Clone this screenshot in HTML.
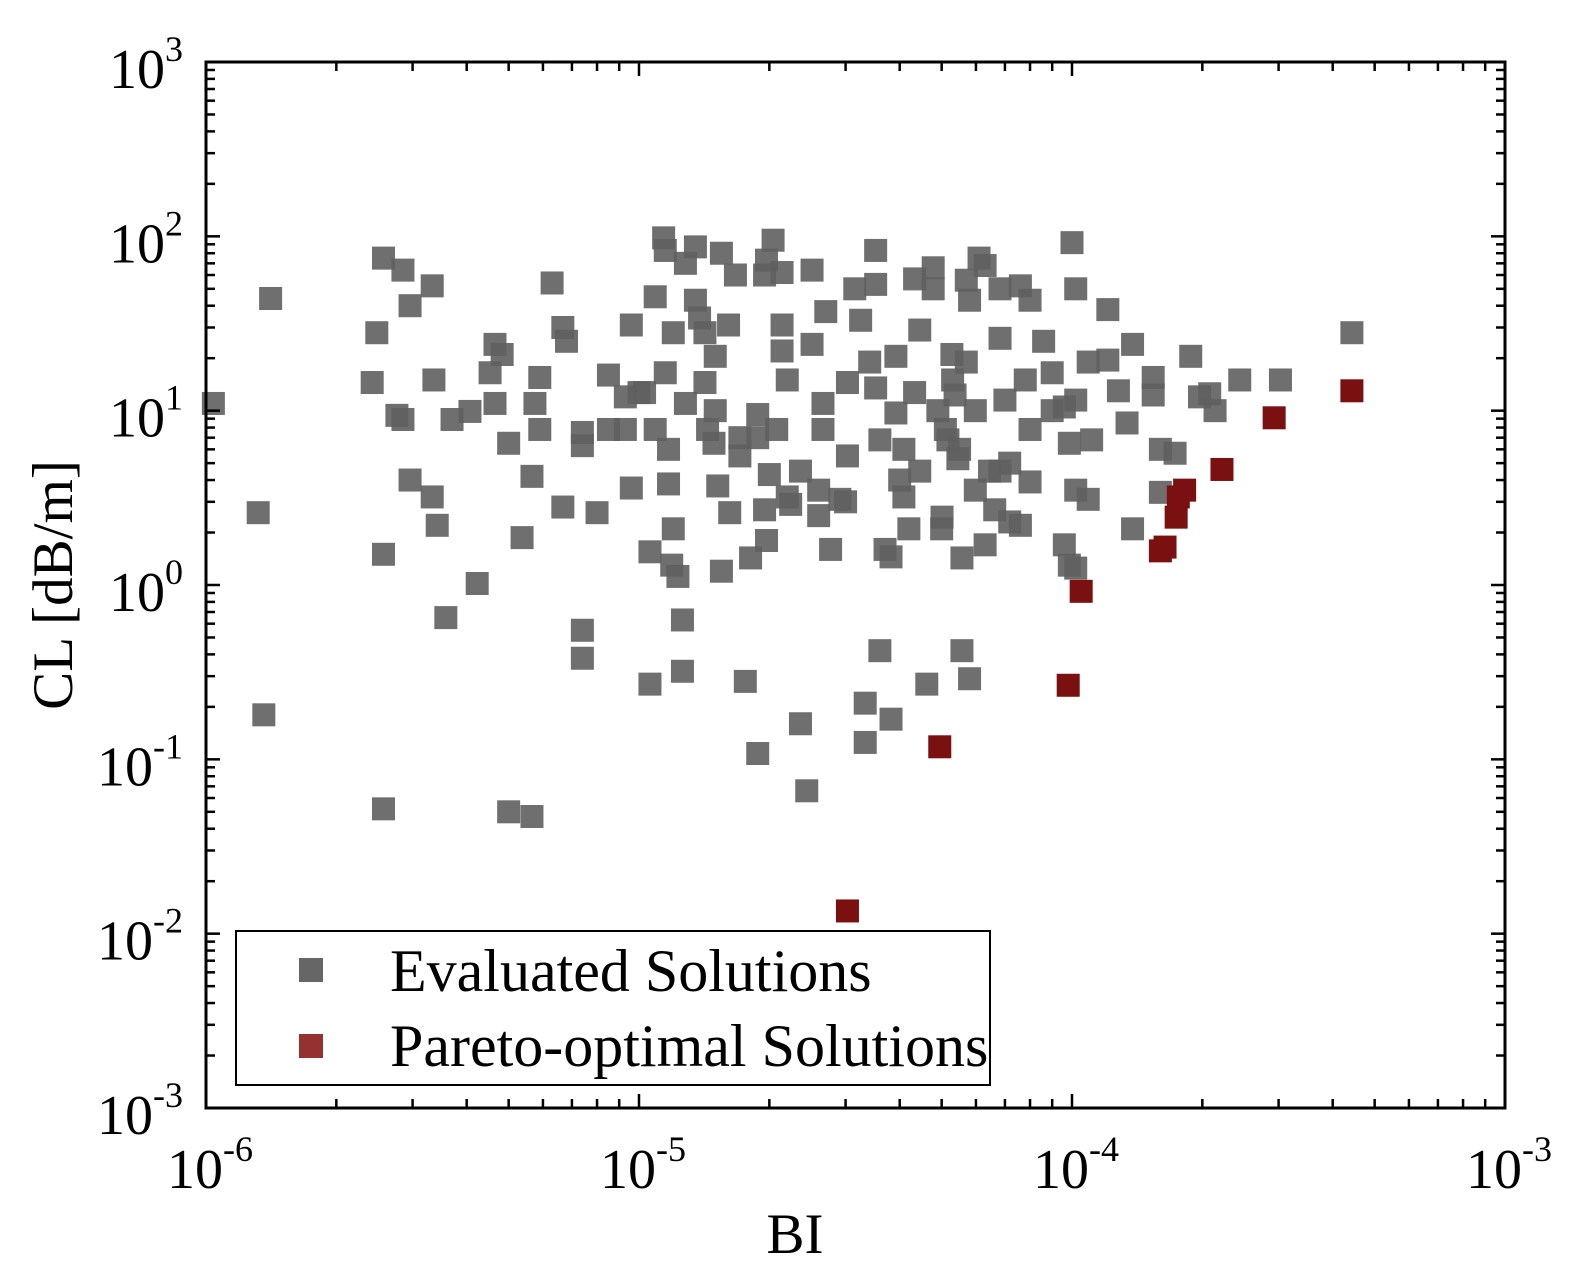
<!DOCTYPE html>
<html><head><meta charset="utf-8"><style>
html,body{margin:0;padding:0;background:#fff;overflow:hidden;width:1574px;height:1285px;}
svg{display:block;font-family:"Liberation Serif",serif;}
</style></head><body>
<svg id="chart" width="1574" height="1285" viewBox="0 0 1574 1285" xmlns="http://www.w3.org/2000/svg">
<rect x="0" y="0" width="1574" height="1285" fill="#fff"/>
<g id="marks"></g>
<g id="axes"></g>
<text x="795" y="1253" font-size="57" text-anchor="middle">BI</text>
<text x="0" y="0" font-size="57" text-anchor="middle" transform="translate(72,585) rotate(-90)">CL [dB/m]</text>
<g>
<rect x="236" y="931" width="754" height="154" fill="#fff" stroke="#000" stroke-width="2"/>
<rect x="299" y="958" width="24" height="24" fill="#666"/>
<text x="390" y="991" font-size="60">Evaluated Solutions</text>
<rect x="299" y="1034" width="24" height="24" fill="#943232"/>
<text x="390" y="1066" font-size="60">Pareto-optimal Solutions</text>
</g>
</svg>
<script>
const grayBI=[1.04e-6,1.41e-6,1.32e-6,1.36e-6,2.57e-6,2.85e-6,2.48e-6,2.42e-6,2.96e-6,3.33e-6,2.76e-6,2.85e-6,3.36e-6,2.96e-6,3.33e-6,3.42e-6,2.57e-6,3.58e-6,4.23e-6,2.57e-6,5e-6,5.66e-6,3.7e-6,4.07e-6,4.65e-6,4.83e-6,4.53e-6,4.65e-6,5e-6,5.37e-6,5.66e-6,5.75e-6,5.9e-6,5.9e-6,6.3e-6,6.67e-6,6.8e-6,6.67e-6,8e-6,7.4e-6,7.4e-6,8.5e-6,9.3e-6,8.5e-6,9.6e-6,9.6e-6,7.4e-6,7.4e-6,9.3e-6,1e-5,1.03e-5,1.06e-5,1.06e-5,1.09e-5,1.09e-5,1.14e-5,1.15e-5,1.15e-5,1.17e-5,1.17e-5,1.2e-5,1.19e-5,1.23e-5,1.26e-5,1.26e-5,1.28e-5,1.28e-5,1.2e-5,1.35e-5,1.35e-5,1.38e-5,1.42e-5,1.42e-5,1.44e-5,1.49e-5,1.5e-5,1.5e-5,1.52e-5,1.55e-5,1.55e-5,1.61e-5,1.62e-5,1.67e-5,1.71e-5,1.71e-5,1.76e-5,1.81e-5,1.88e-5,1.88e-5,1.88e-5,1.95e-5,1.97e-5,2.04e-5,1.95e-5,1.97e-5,2e-5,2.08e-5,2.14e-5,2.14e-5,2.2e-5,2.14e-5,2.2e-5,2.24e-5,2.36e-5,2.36e-5,2.44e-5,2.51e-5,2.51e-5,2.6e-5,2.6e-5,2.66e-5,2.66e-5,2.7e-5,2.77e-5,2.91e-5,3.03e-5,3.03e-5,3.15e-5,3.25e-5,3.33e-5,3.33e-5,3.41e-5,3.52e-5,3.52e-5,3.52e-5,3.6e-5,3.6e-5,3.7e-5,3.82e-5,3.82e-5,3.92e-5,3.92e-5,4.09e-5,4.09e-5,4.2e-5,4.33e-5,4.33e-5,4.45e-5,4.45e-5,4.62e-5,4.78e-5,4.78e-5,4.9e-5,5.01e-5,5e-5,5.17e-5,5.28e-5,5.37e-5,5.45e-5,5.57e-5,5.57e-5,5.7e-5,5.7e-5,5.8e-5,5.8e-5,5.98e-5,5.98e-5,6.1e-5,6.3e-5,6.3e-5,6.45e-5,6.63e-5,6.82e-5,6.82e-5,7e-5,7.18e-5,7.18e-5,7.6e-5,7.6e-5,7.8e-5,8e-5,8e-5,8e-5,8.6e-5,9e-5,9e-5,9.6e-5,9.86e-5,1e-4,1.02e-4,1.02e-4,1.02e-4,1.02e-4,1.09e-4,1.11e-4,1.09e-4,1.21e-4,1.21e-4,1.28e-4,1.34e-4,1.38e-4,1.38e-4,1.54e-4,1.54e-4,1.6e-4,1.6e-4,1.73e-4,1.88e-4,1.97e-4,2.08e-4,2.14e-4,2.44e-4,3.03e-4,4.43e-4,5.3e-5,5.1e-5,6.82e-5,9.6e-5,9.86e-5,3.0e-5,4.0e-5,5.5e-5];
const grayCL=[11,44,2.6,0.18,75,64,28,14.5,40,52,9.4,8.9,15,4.0,3.2,2.2,1.5,0.65,1.02,0.052,0.05,0.047,8.9,9.9,24,21,16.5,11,6.5,1.87,4.2,11,15.5,7.8,54,30,25,2.8,2.6,6.3,7.5,7.8,7.8,16,31,3.6,0.55,0.38,12,12.7,12.7,1.55,0.27,45,7.8,98,83,16.5,6,3.8,2.1,1.3,1.12,0.63,0.32,70,11,28,87,43,34,28,14.5,7.8,6.5,10,20.5,3.7,1.2,80,31,2.6,60,5.5,7,0.28,1.43,9.5,7,0.108,60,73,95,2.7,1.8,4.3,7.8,31,22,15,62,3.2,2.9,4.5,0.16,0.066,64,24,2.5,3.5,11,7.8,37,1.6,3.1,14.5,5.5,50,33,0.21,0.125,19,53,83,13.5,6.8,0.42,1.6,1.45,0.17,9.7,20.5,3.2,6,2.1,57,12.7,29,4.5,0.27,66,50,10,2.45,2.1,6.8,21,12.3,5.3,1.43,0.42,56,19,43,0.29,10,3.5,75,68,1.7,4.5,2.7,50,26,11.5,5,2.3,52,2.2,15,43,7.8,3.9,25,16.5,10,1.7,6.5,92,50,11.5,3.5,1.25,19,6.8,3.1,38,19.5,13,8.5,24,2.1,15.5,12.3,6,3.4,5.7,20.5,12,12.5,10,15,15,28,15,7.8,4.5,10.5,1.3,3.0,4.0,6.0];
const paretoBI=[3.03e-5,4.95e-5,9.8e-5,1.05e-4,1.6e-4,1.64e-4,1.74e-4,1.76e-4,1.82e-4,2.22e-4,2.93e-4,4.43e-4];
const paretoCL=[0.0135,0.118,0.266,0.92,1.57,1.65,2.45,3.2,3.5,4.6,9.1,13];
const xTickExp=[-6,-5,-4,-3];
const yTickExp=[-3,-2,-1,0,1,2,3];

const X0=206,X1=1505,Y0=1108,Y1=62;
const xs=v=>X0+(Math.log10(v)+6)/3*(X1-X0);
const ys=v=>Y0-(Math.log10(v)+3)/6*(Y0-Y1);
const NS="http://www.w3.org/2000/svg";
const marks=document.getElementById('marks');
const axes=document.getElementById('axes');
function mk(tag,attrs,parent){const e=document.createElementNS(NS,tag);for(const k in attrs)e.setAttribute(k,attrs[k]);parent.appendChild(e);return e;}
const S=23;
grayBI.forEach((b,i)=>{
  const r=mk('rect',{x:xs(b)-S/2,y:ys(grayCL[i])-S/2,width:S,height:S,fill:'#5f5f5f','fill-opacity':0.9},marks);
  
  
});
paretoBI.forEach((b,i)=>{
  const r=mk('rect',{x:xs(b)-S/2,y:ys(paretoCL[i])-S/2,width:S,height:S,fill:'#7a1010'},marks);
  
  
});
const fr=mk('rect',{x:X0,y:Y1,width:X1-X0,height:Y0-Y1,fill:'none',stroke:'#000','stroke-width':3},axes);


for(let e=-6;e<-3;e++){for(let m=1;m<10;m++){const x=xs(m*Math.pow(10,e));const L=m===1?14:9;
  mk('line',{x1:x,y1:Y0,x2:x,y2:Y0-L,stroke:'#000','stroke-width':2.5},axes);
  mk('line',{x1:x,y1:Y1,x2:x,y2:Y1+L,stroke:'#000','stroke-width':2.5},axes);}}
for(let e=-3;e<3;e++){for(let m=1;m<10;m++){const y=ys(m*Math.pow(10,e));const L=m===1?14:9;
  mk('line',{x1:X0,y1:y,x2:X0+L,y2:y,stroke:'#000','stroke-width':2.5},axes);
  mk('line',{x1:X1,y1:y,x2:X1-L,y2:y,stroke:'#000','stroke-width':2.5},axes);}}
xTickExp.forEach(e=>{
  const t=mk('text',{x:xs(Math.pow(10,e))+4,y:1188,'font-size':56,'text-anchor':'middle',fill:'#000'},axes);
  
  
  t.innerHTML='10<tspan font-size="36" dy="-27">'+(e<0?'-':'')+Math.abs(e)+'</tspan>';
});
yTickExp.forEach(e=>{
  const t=mk('text',{x:183,y:ys(Math.pow(10,e))+26,'font-size':56,'text-anchor':'end',fill:'#000'},axes);
  
  
  t.innerHTML='10<tspan font-size="36" dy="-27">'+(e<0?'-':'')+Math.abs(e)+'</tspan>';
});
</script>
</body></html>
